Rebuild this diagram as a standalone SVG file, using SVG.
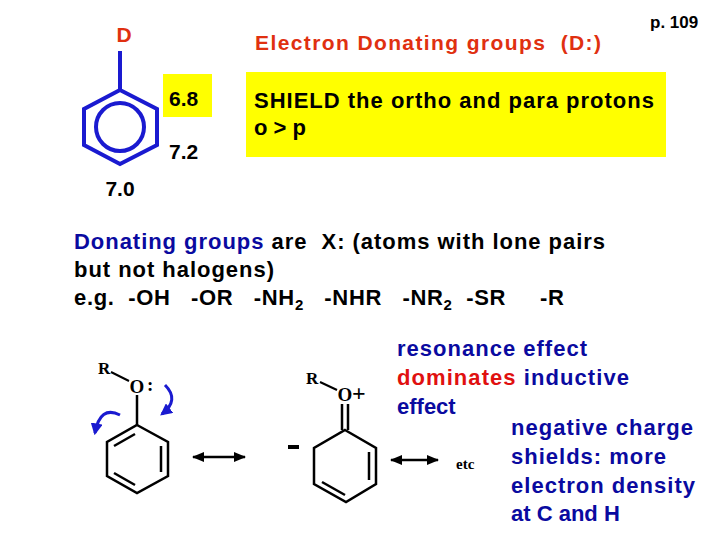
<svg xmlns="http://www.w3.org/2000/svg" width="720" height="540" viewBox="0 0 720 540">
<defs>
<marker id="ah" viewBox="0 0 10 10" refX="9" refY="5" markerWidth="5" markerHeight="5" orient="auto-start-reverse"><path d="M0,1 L10,5 L0,9 Z" fill="#000"/></marker>
<marker id="bh" viewBox="0 0 10 10" refX="8" refY="5" markerWidth="4" markerHeight="4" orient="auto"><path d="M0,0 L10,5 L0,10 Z" fill="#1a1ad0"/></marker>
</defs>
<style>
text{white-space:pre}
.s{font-family:"Liberation Sans",Arial,sans-serif;font-weight:bold}
.t{font-family:"Liberation Serif","Times New Roman",serif;font-weight:bold}
.blue{fill:#0a0aa0}.red{fill:#e01010}
.ring{fill:none;stroke:#000;stroke-width:2.5}
</style>
<rect width="720" height="540" fill="#fff"/>
<g id="top">
<text x="124" y="42" class="s" font-size="21" fill="#e03010" text-anchor="middle">D</text>
<text x="255" y="50" class="s" font-size="21" fill="#e03010" textLength="346">Electron Donating groups  (D:)</text>
<text x="650" y="28" class="s" font-size="17" fill="#000">p. 109</text>
<g fill="none" stroke="#1a1ad0" stroke-width="4">
<line x1="120" y1="51" x2="120" y2="90"/>
<polygon points="120,90 157,109 157,145 120,164 84,145 84,109"/>
<circle cx="120" cy="127" r="24"/>
</g>
<rect x="163" y="74" width="49" height="43" fill="#ffff00"/>
<text x="169" y="106" class="s" font-size="21">6.8</text>
<text x="169" y="159" class="s" font-size="21">7.2</text>
<text x="120" y="196" class="s" font-size="21" text-anchor="middle">7.0</text>
<rect x="246" y="72" width="420" height="85" fill="#ffff00"/>
<text x="254" y="108" class="s" font-size="22" textLength="400">SHIELD the ortho and para protons</text>
<text x="254" y="135" class="s" font-size="22">o &gt; p</text>
</g>
<g id="groups" class="s" font-size="22">
<text x="74" y="249" textLength="531"><tspan class="blue">Donating groups</tspan> are  X: (atoms with lone pairs</text>
<text x="74" y="277" textLength="200">but not halogens)</text>
<text x="74" y="305" textLength="490">e.g.  -OH   -OR   -NH<tspan font-size="15" dy="5">2</tspan><tspan dy="-5">   -NHR   -NR</tspan><tspan font-size="15" dy="5">2</tspan><tspan dy="-5">  -SR     -R</tspan></text>
</g>
<g id="mol1">
<text x="98" y="374" class="t" font-size="17">R</text>
<line x1="111" y1="372" x2="129" y2="381" stroke="#000" stroke-width="2"/>
<text x="137" y="393" class="t" font-size="19" text-anchor="middle">O</text>
<text x="147" y="391" class="t" font-size="19">:</text>
<line x1="137" y1="395" x2="137" y2="425" stroke="#000" stroke-width="2.5"/>
<polygon class="ring" points="137,425 168,442 168,476 137,493 107,476 107,442"/>
<line x1="161" y1="446" x2="161" y2="472" stroke="#000" stroke-width="2.5"/>
<line x1="114" y1="446" x2="135" y2="434" stroke="#000" stroke-width="2.5"/>
<line x1="114" y1="473" x2="135" y2="485" stroke="#000" stroke-width="2.5"/>
<path d="M165,385 Q180,400 162,414" fill="none" stroke="#1a1ad0" stroke-width="3" marker-end="url(#bh)"/>
<path d="M120,415 Q100,405 95,433" fill="none" stroke="#1a1ad0" stroke-width="3" marker-end="url(#bh)"/>
</g>
<g id="mol2">
<text x="306" y="384" class="t" font-size="17">R</text>
<line x1="320" y1="382" x2="337" y2="390" stroke="#000" stroke-width="2"/>
<text x="345" y="401" class="t" font-size="19" text-anchor="middle">O</text>
<text x="352" y="401" class="t" font-size="24">+</text>
<line x1="342" y1="404" x2="342" y2="430" stroke="#000" stroke-width="2.5"/>
<line x1="348" y1="404" x2="348" y2="430" stroke="#000" stroke-width="2.5"/>
<polygon class="ring" points="345,430 376,448 376,484 346,502 314,484 314,448"/>
<line x1="369" y1="452" x2="369" y2="480" stroke="#000" stroke-width="2.5"/>
<line x1="322" y1="482" x2="345" y2="495" stroke="#000" stroke-width="2.5"/>
<line x1="288" y1="447" x2="299" y2="447" stroke="#000" stroke-width="4"/>
<text x="456" y="469" class="t" font-size="15" font-weight="normal">etc</text>
</g>
<g id="connectors" stroke="#000" stroke-width="2.5">
<line x1="193" y1="457" x2="245" y2="457" marker-start="url(#ah)" marker-end="url(#ah)"/>
<line x1="391" y1="460" x2="438" y2="460" marker-start="url(#ah)" marker-end="url(#ah)"/>
</g>
<g id="notes" class="s" font-size="22">
<text x="397" y="356" class="blue" textLength="190">resonance effect</text>
<text x="397" y="385" textLength="232"><tspan class="red">dominates</tspan><tspan class="blue"> inductive</tspan></text>
<text x="397" y="414" class="blue">effect</text>
<text x="511" y="435" class="blue" textLength="182">negative charge</text>
<text x="511" y="464" class="blue" textLength="155">shields: more</text>
<text x="511" y="493" class="blue" textLength="184">electron density</text>
<text x="511" y="521" class="blue">at C and H</text>
</g>
</svg>
